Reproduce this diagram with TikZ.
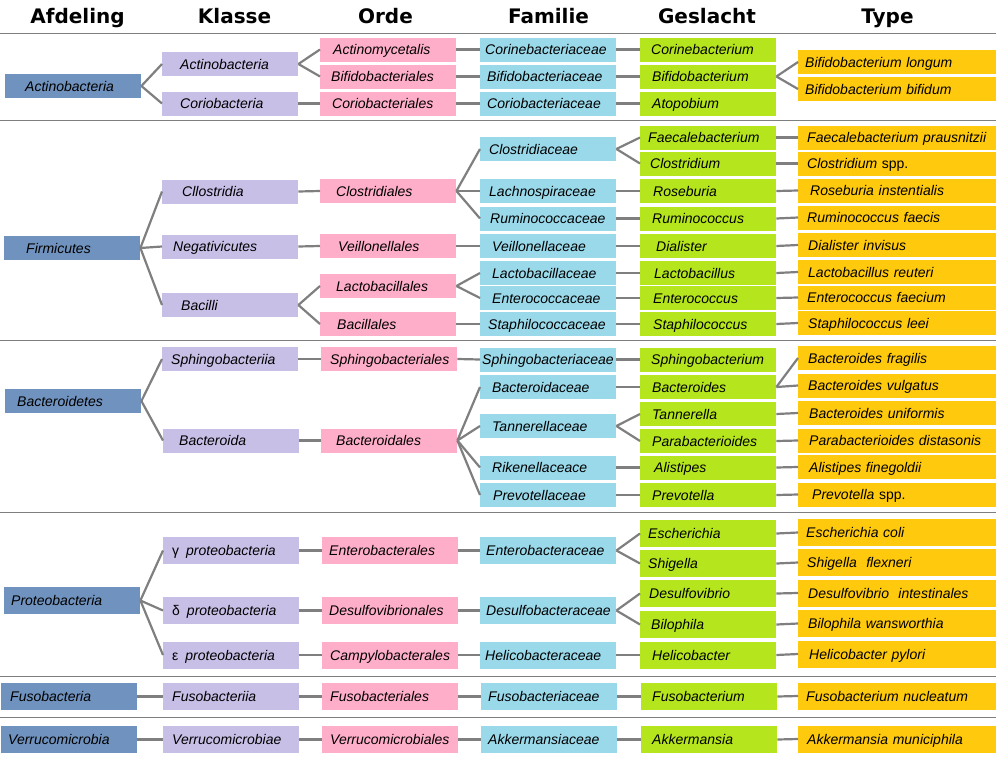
\documentclass[tikz,border=0pt]{standalone}
\usepackage{fontspec}
\setmainfont{Liberation Sans}
\newfontfamily\headfont{DejaVu Sans}
\definecolor{afdcol}{HTML}{7092BE}
\definecolor{klcol}{HTML}{C8BFE7}
\definecolor{ordcol}{HTML}{FFAEC9}
\definecolor{famcol}{HTML}{99D9EA}
\definecolor{gencol}{HTML}{B5E61D}
\definecolor{typcol}{HTML}{FFC90E}
\definecolor{linkcol}{HTML}{7F7F7F}
\tikzset{
  ind/.code={\def\cellind{#1}},
  cell/.style={rectangle, anchor=west, inner xsep=0pt, inner ysep=0pt,
    minimum height=24pt, text width=136pt, align=left,
    text height=10pt, text depth=0pt,
    font=\fontsize{14}{16}\selectfont\itshape,
    execute at begin node={\hspace*{\cellind}}},
  afd/.style={cell, fill=afdcol, ind=14pt},
  kl/.style={cell, fill=klcol, ind=9pt},
  ord/.style={cell, fill=ordcol, ind=9pt},
  fam/.style={cell, fill=famcol, ind=8pt},
  gen/.style={cell, fill=gencol, ind=12pt},
  typ/.style={cell, fill=typcol, text width=198pt, ind=9pt},
  tall/.style={minimum height=27pt},
  link/.style={draw=linkcol, line width=2.2pt},
  sep/.style={draw=linkcol, line width=1pt},
  head/.style={anchor=base, font=\headfont\bfseries\fontsize{20}{24}\selectfont}
}
\begin{document}
\begin{tikzpicture}[x=1pt,y=-1pt]
  \useasboundingbox (0,0) rectangle (996,758);
  % kolomkoppen
  \node[head] (hAfd) at (77.5,23) {Afdeling};
  \node[head] (hKl) at (234.5,23) {Klasse};
  \node[head] (hOrd) at (385.5,23) {Orde};
  \node[head] (hFam) at (548.5,23) {Familie};
  \node[head] (hGen) at (707,23) {Geslacht};
  \node[head] (hTyp) at (887.5,23) {Type};
  \foreach \y in {33,120,340,512,676,717}
    \draw[sep] (0,\y) -- (996,\y);

  % Actinobacteria
  \node[afd,ind=20pt] (A1) at (5,86) {Actinobacteria};
  \node[kl,ind=18pt] (K1) at (162,64) {Actinobacteria};
  \node[kl,ind=18pt] (K2) at (162,103.5) {Coriobacteria};
  \node[ord,ind=13pt] (O1) at (320,49.5) {Actinomycetalis};
  \node[ord,ind=11pt] (O2) at (320,76.5) {Bifidobacteriales};
  \node[ord,ind=12pt] (O3) at (320,103.5) {Coriobacteriales};
  \node[fam,ind=5pt] (F1) at (480,49.5) {Corinebacteriaceae};
  \node[fam,ind=7pt] (F2) at (480,76.5) {Bifidobacteriaceae};
  \node[fam,ind=7pt] (F3) at (480,103.5) {Coriobacteriaceae};
  \node[gen,ind=11pt] (G1) at (640,49.5) {Corinebacterium};
  \node[gen] (G2) at (640,76.5) {Bifidobacterium};
  \node[gen] (G3) at (640,103.5) {Atopobium};
  \node[typ,ind=7pt] (T1) at (798,62) {Bifidobacterium longum};
  \node[typ,ind=7pt] (T2) at (798,89) {Bifidobacterium bifidum};

  % Firmicutes
  \node[afd,ind=22pt] (A2) at (4,248) {Firmicutes};
  \node[kl,ind=20pt] (K3) at (162,191.5) {Cllostridia};
  \node[kl,ind=11pt] (K4) at (162,246.5) {Negativicutes};
  \node[kl,ind=19pt] (K5) at (162,305) {Bacilli};
  \node[ord,ind=16pt] (O4) at (320,191) {Clostridiales};
  \node[ord,ind=18pt] (O5) at (320,246) {Veillonellales};
  \node[ord,ind=16pt] (O6) at (320,286) {Lactobacillales};
  \node[ord,ind=17pt] (O7) at (320,324) {Bacillales};
  \node[fam,ind=9pt] (F4) at (480,149) {Clostridiaceae};
  \node[fam,ind=9pt] (F5) at (480,191) {Lachnospiraceae};
  \node[fam,ind=10pt] (F6) at (480,218.5) {Ruminococcaceae};
  \node[fam,ind=12pt] (F7) at (480,246) {Veillonellaceae};
  \node[fam,ind=12pt] (F8) at (480,273) {Lactobacillaceae};
  \node[fam,ind=12pt] (F9) at (480,298) {Enterococcaceae};
  \node[fam] (F10) at (480,324) {Staphilococcaceae};
  \node[gen,ind=8pt] (G4) at (640,137.5) {Faecalebacterium};
  \node[gen,ind=10pt] (G5) at (640,163.5) {Clostridium};
  \node[gen,ind=13pt] (G6) at (640,191) {Roseburia};
  \node[gen] (G7) at (640,218.5) {Ruminococcus};
  \node[gen,ind=16pt] (G8) at (640,246) {Dialister};
  \node[gen,ind=14pt] (G9) at (640,273) {Lactobacillus};
  \node[gen,ind=13pt] (G10) at (640,298) {Enterococcus};
  \node[gen,ind=13pt] (G11) at (640,324) {Staphilococcus};
  \node[typ] (T3) at (798,137.5) {Faecalebacterium prausnitzii};
  \node[typ] (T4) at (798,163.5) {Clostridium \textup{spp.}};
  \node[typ,ind=12pt] (T5) at (798,190.5) {Roseburia instentialis};
  \node[typ] (T6) at (798,217.5) {Ruminococcus faecis};
  \node[typ,ind=10pt] (T7) at (798,245) {Dialister invisus};
  \node[typ,ind=10pt] (T8) at (798,272) {Lactobacillus reuteri};
  \node[typ] (T9) at (798,297.5) {Enterococcus faecium};
  \node[typ,ind=10pt] (T10) at (798,323) {Staphilococcus leei};

  % Bacteroidetes
  \node[afd,ind=12pt] (A3) at (5,401) {Bacteroidetes};
  \node[kl] (K6) at (162,359) {Sphingobacteriia};
  \node[kl,ind=16pt] (K7) at (163,440.5) {Bacteroida};
  \node[ord] (O8) at (321,359) {Sphingobacteriales};
  \node[ord,ind=15pt] (O9) at (321,440.5) {Bacteroidales};
  \node[fam,ind=2pt] (F11) at (480,359.5) {Sphingobacteriaceae};
  \node[fam,ind=12pt] (F12) at (480,387) {Bacteroidaceae};
  \node[fam,ind=12pt] (F13) at (480,426) {Tannerellaceae};
  \node[fam,ind=12pt] (F14) at (480,467.5) {Rikenellaceace};
  \node[fam,ind=13pt] (F15) at (480,495) {Prevotellaceae};
  \node[gen,ind=11pt] (G12) at (640,359.5) {Sphingobacterium};
  \node[gen] (G13) at (640,387) {Bacteroides};
  \node[gen] (G14) at (640,414) {Tannerella};
  \node[gen] (G15) at (640,441) {Parabacterioides};
  \node[gen,ind=14pt] (G16) at (640,467.5) {Alistipes};
  \node[gen] (G17) at (640,495) {Prevotella};
  \node[typ,ind=10pt] (T11) at (798,358) {Bacteroides fragilis};
  \node[typ,ind=10pt] (T12) at (798,385.5) {Bacteroides vulgatus};
  \node[typ,ind=11pt] (T13) at (798,413) {Bacteroides uniformis};
  \node[typ,ind=11pt] (T14) at (798,440.5) {Parabacterioides distasonis};
  \node[typ,ind=11pt] (T15) at (798,467) {Alistipes finegoldii};
  \node[typ,ind=14pt] (T16) at (798,494.5) {Prevotella \textup{spp.}};

  % Proteobacteria
  \node[afd,tall,ind=7pt] (A4) at (4,600.5) {Proteobacteria};
  \node[kl,tall] (K8) at (163,550.5) {\textup{γ}\hspace{7pt}proteobacteria};
  \node[kl,tall] (K9) at (163,610.5) {\textup{δ}\hspace{7pt}proteobacteria};
  \node[kl,tall] (K10) at (163,655) {\textup{ε}\hspace{7pt}proteobacteria};
  \node[ord,tall,ind=7pt] (O10) at (322,550.5) {Enterobacterales};
  \node[ord,tall,ind=7pt] (O11) at (322,610.5) {Desulfovibrionales};
  \node[ord,tall,ind=8pt] (O12) at (322,655) {Campylobacterales};
  \node[fam,tall,ind=6pt] (F16) at (480,550.5) {Enterobacteraceae};
  \node[fam,tall,ind=6pt] (F17) at (480,610.5) {Desulfobacteraceae};
  \node[fam,tall,ind=5pt] (F18) at (480,655) {Helicobacteraceae};
  \node[gen,tall,ind=8pt] (G18) at (640,533.5) {Escherichia};
  \node[gen,tall,ind=8pt] (G19) at (640,563.5) {Shigella};
  \node[gen,tall,ind=9pt] (G20) at (640,593.5) {Desulfovibrio};
  \node[gen,tall,ind=11pt] (G21) at (640,624.5) {Bilophila};
  \node[gen,tall] (G22) at (640,655) {Helicobacter};
  \node[typ,tall,ind=8pt] (T17) at (798,532.5) {Escherichia coli};
  \node[typ,tall] (T18) at (798,562.5) {Shigella\ \ flexneri};
  \node[typ,tall,ind=10pt] (T19) at (798,593) {Desulfovibrio\ \ intestinales};
  \node[typ,tall,ind=10pt] (T20) at (798,623.5) {Bilophila wansworthia};
  \node[typ,tall,ind=11pt] (T21) at (798,654) {Helicobacter pylori};

  % Fusobacteria
  \node[afd,tall,ind=9pt] (A5) at (1,696.5) {Fusobacteria};
  \node[kl,tall] (K11) at (163,696.5) {Fusobacteriia};
  \node[ord,tall,ind=8pt] (O13) at (322,696.5) {Fusobacteriales};
  \node[fam,tall,ind=7pt] (F19) at (481,696.5) {Fusobacteriaceae};
  \node[gen,tall,ind=11pt] (G23) at (641,696.5) {Fusobacterium};
  \node[typ,tall,ind=8pt] (T22) at (798,696) {Fusobacterium nucleatum};

  % Verrucomicrobia
  \node[afd,tall,ind=7pt] (A6) at (1,739.5) {Verrucomicrobia};
  \node[kl,tall] (K12) at (163,739.5) {Verrucomicrobiae};
  \node[ord,tall,ind=8pt] (O14) at (322,739.5) {Verrucomicrobiales};
  \node[fam,tall,ind=7pt] (F20) at (481,739.5) {Akkermansiaceae};
  \node[gen,tall,ind=11pt] (G24) at (641,739.5) {Akkermansia};
  \node[typ,tall] (T23) at (798,739) {Akkermansia municiphila};

  % verbindingen
  \foreach \a/\b in {A1/K1,A1/K2,K1/O1,K1/O2,K2/O3,O1/F1,O2/F2,O3/F3,
      F1/G1,F2/G2,F3/G3,G2/T1,G2/T2,
      A2/K3,A2/K4,A2/K5,K3/O4,K4/O5,K5/O6,K5/O7,O4/F4,O4/F5,O4/F6,
      O5/F7,O6/F8,O6/F9,O7/F10,F4/G4,F4/G5,F5/G6,F6/G7,F7/G8,F8/G9,
      F9/G10,F10/G11,G4/T3,G5/T4,G6/T5,G7/T6,G8/T7,G9/T8,G10/T9,G11/T10,
      A3/K6,A3/K7,K6/O8,K7/O9,O8/F11,O9/F12,O9/F13,O9/F14,O9/F15,
      F11/G12,F12/G13,F13/G14,F13/G15,F14/G16,F15/G17,G13/T11,G13/T12,
      G14/T13,G15/T14,G16/T15,G17/T16,
      A4/K8,A4/K9,A4/K10,K8/O10,K9/O11,K10/O12,O10/F16,O11/F17,O12/F18,
      F16/G18,F16/G19,F17/G20,F17/G21,F18/G22,G18/T17,G19/T18,G20/T19,
      G21/T20,G22/T21,
      A5/K11,K11/O13,O13/F19,F19/G23,G23/T22,
      A6/K12,K12/O14,O14/F20,F20/G24,G24/T23}
    \draw[link] (\a.east) -- (\b.west);
\end{tikzpicture}
\end{document}
